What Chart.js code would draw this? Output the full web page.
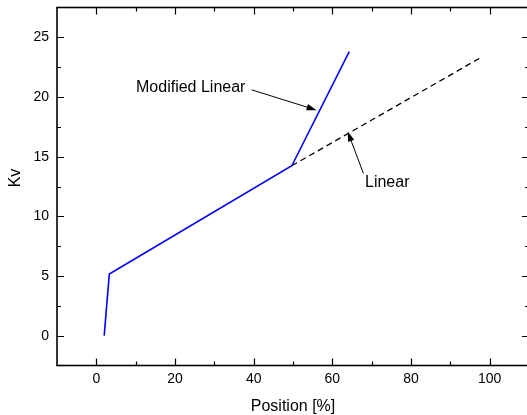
<!DOCTYPE html>
<html>
<head>
<meta charset="utf-8">
<script src="https://cdn.jsdelivr.net/npm/chart.js@4/dist/chart.umd.min.js"></script>
<style>
  html, body { margin: 0; padding: 0; background: #fff; overflow: hidden; }
  #wrap { width: 540px; height: 415px; }
</style>
</head>
<body>
<div id="wrap"><canvas id="chart"></canvas></div>
<script>
// curve data
const modX = [2, 3.3, 49.7, 64.3];
const modY = [0, 5.17, 14.24, 23.8];
const linX = [49.7, 98.1];
const linY = [14.24, 23.37];

const xTicks = [0, 20, 40, 60, 80, 100];
const yTicks = [0, 5, 10, 15, 20, 25];
const xMinor = [-10, 10, 30, 50, 70, 90, 110];
const yMinor = [-2.5, 2.5, 7.5, 12.5, 17.5, 22.5, 27.5];

const FONT = "'Liberation Sans', Arial, Helvetica, sans-serif";

function pts(xs, ys) {
  return xs.map((x, i) => ({ x: x, y: ys[i] }));
}

function arrow(ctx, x1, y1, x2, y2) {
  const a = Math.atan2(y2 - y1, x2 - x1);
  const len = 10, w = 3.2;
  ctx.beginPath();
  ctx.moveTo(x1, y1);
  ctx.lineTo(x2 - Math.cos(a) * len * 0.8, y2 - Math.sin(a) * len * 0.8);
  ctx.stroke();
  ctx.beginPath();
  ctx.moveTo(x2, y2);
  ctx.lineTo(x2 - Math.cos(a) * len - Math.sin(a) * w, y2 - Math.sin(a) * len + Math.cos(a) * w);
  ctx.lineTo(x2 - Math.cos(a) * len + Math.sin(a) * w, y2 - Math.sin(a) * len - Math.cos(a) * w);
  ctx.closePath();
  ctx.fill();
}

// frame, inward ticks, axis titles and the two labels with arrows
const decor = {
  id: "decor",
  afterDraw(chart) {
    const ctx = chart.ctx;
    const a = chart.chartArea;
    const xs = chart.scales.x, ys = chart.scales.y;
    ctx.save();
    ctx.strokeStyle = "#000";
    ctx.fillStyle = "#000";

    ctx.lineWidth = 1.2;
    ctx.beginPath();
    xTicks.concat(xMinor).forEach((v) => {
      if (v <= xs.min || v >= xs.max) return;
      const p = Math.round(xs.getPixelForValue(v)) + 0.5;
      const l = xTicks.includes(v) ? 7 : 4;
      ctx.moveTo(p, a.bottom); ctx.lineTo(p, a.bottom - l);
      ctx.moveTo(p, a.top); ctx.lineTo(p, a.top + l);
    });
    yTicks.concat(yMinor).forEach((v) => {
      if (v <= ys.min || v >= ys.max) return;
      const p = Math.round(ys.getPixelForValue(v)) + 0.5;
      const l = yTicks.includes(v) ? 7 : 4;
      ctx.moveTo(a.left, p); ctx.lineTo(a.left + l, p);
      ctx.moveTo(a.right, p); ctx.lineTo(a.right - l, p);
    });
    ctx.stroke();

    ctx.lineWidth = 1.6;
    ctx.strokeRect(a.left, a.top, a.right - a.left, a.bottom - a.top);

    ctx.font = "16px " + FONT;
    ctx.textAlign = "center";
    ctx.textBaseline = "alphabetic";
    ctx.fillText("Position [%]", (a.left + a.right) / 2, 410.5);
    ctx.save();
    ctx.translate(20, 178);
    ctx.rotate(-Math.PI / 2);
    ctx.fillText("Kv", 0, 0);
    ctx.restore();

    // annotations
    ctx.textBaseline = "middle";
    ctx.textAlign = "right";
    ctx.fillText("Modified Linear", xs.getPixelForValue(37.9), ys.getPixelForValue(20.8));
    ctx.textAlign = "left";
    ctx.fillText("Linear", xs.getPixelForValue(68.3), ys.getPixelForValue(12.8));

    ctx.lineWidth = 1;
    arrow(ctx, xs.getPixelForValue(39.5), ys.getPixelForValue(20.6),
      xs.getPixelForValue(56.0), ys.getPixelForValue(18.9));
    arrow(ctx, xs.getPixelForValue(67.9), ys.getPixelForValue(13.6),
      xs.getPixelForValue(63.9), ys.getPixelForValue(17.1));
    ctx.restore();
  },
};

new Chart(document.getElementById("chart"), {
  type: "scatter",
  data: {
    datasets: [
      {
        label: "Linear",
        data: pts(linX, linY),
        showLine: true,
        borderColor: "#000",
        borderWidth: 1.3,
        borderDash: [6, 4],
        pointRadius: 0,
        order: 2,
      },
      {
        label: "Modified Linear",
        data: pts(modX, modY),
        showLine: true,
        borderColor: "#0000ff",
        borderWidth: 1.6,
        pointRadius: 0,
        order: 1,
      },
    ],
  },
  options: {
    responsive: true,
    maintainAspectRatio: false,
    animation: false,
    layout: { padding: { top: 7.5, right: 11, left: 0, bottom: 0 } },
    plugins: {
      legend: { display: false },
      tooltip: { enabled: false },
    },
    scales: {
      x: {
        type: "linear",
        min: -10,
        max: 110,
        afterBuildTicks: (s) => { s.ticks = xTicks.map((v) => ({ value: v })); },
        afterFit: (s) => { s.height = 49.5; s.paddingLeft = 0; s.paddingRight = 0; },
        grid: { display: false, drawTicks: false },
        border: { display: false },
        ticks: { padding: 5, color: "#000", font: { family: FONT, size: 14 } },
      },
      y: {
        type: "linear",
        min: -2.5,
        max: 27.5,
        afterBuildTicks: (s) => { s.ticks = yTicks.map((v) => ({ value: v })); },
        afterFit: (s) => { s.width = 57; s.paddingTop = 0; s.paddingBottom = 0; },
        grid: { display: false, drawTicks: false },
        border: { display: false },
        ticks: { padding: 8, color: "#000", font: { family: FONT, size: 14 } },
      },
    },
  },
  plugins: [decor],
});
</script>
</body>
</html>
